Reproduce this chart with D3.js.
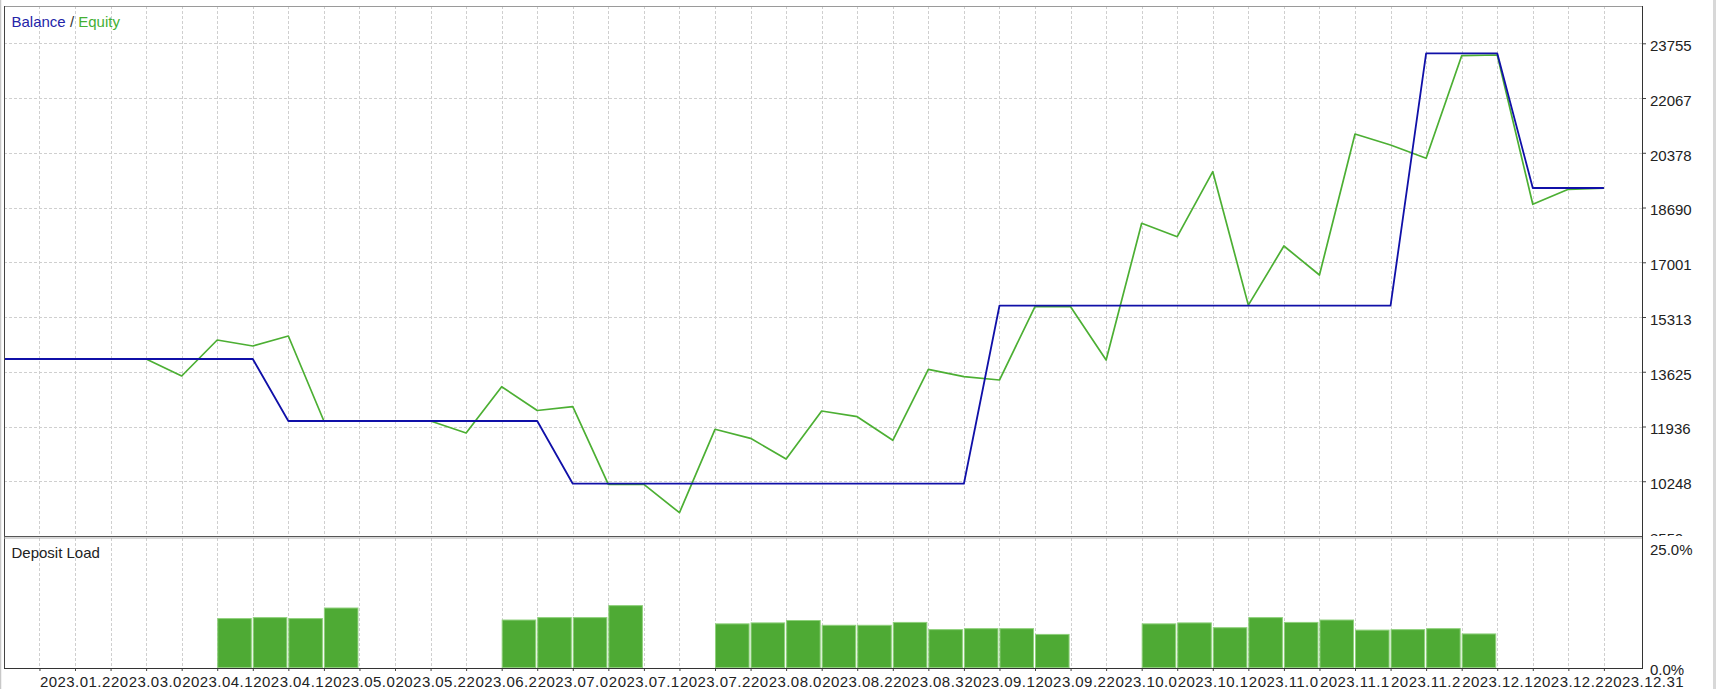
<!DOCTYPE html>
<html><head><meta charset="utf-8">
<script src="https://cdn.jsdelivr.net/npm/d3@7"></script>
<style>
body{margin:0;background:#fff}
svg{display:block}
text{font-family:"Liberation Sans",Arial,sans-serif;font-size:15px;fill:#222}
</style>
</head><body>
<svg id="chart" width="1716" height="700"></svg>
<script>
// ---- data ----
const balance = [14018,14018,14018,14018,14018,14018,14018,14018,
  12106,12106,12106,12106,12106,12106,12106,12106,
  10172,10172,10172,10172,10172,10172,10172,10172,10172,10172,10172,10172,
  15662,15662,15662,15662,15662,15662,15662,15662,15662,15662,15662,15662,
  23446,23446,23446,19292,19292,19292];
const equity = [14018,14018,14018,14018,14018,13494,14604,14419,14727,
  12106,12106,12106,12106,11736,13164,12430,12547,10150,10150,9278,
  11850,11572,10934,12414,12239,11511,13700,13472,13370,15631,15631,13987,
  18203,17790,19795,15680,17503,16609,20957,20618,20208,23372,23394,18789,19252,19285];
const depositLoad = [0,0,0,0,0,0,10.4,10.6,10.4,12.6,0,0,0,0,10.1,10.6,10.6,13.1,0,0,
  9.3,9.5,10.0,9.0,9.0,9.6,8.1,8.3,8.3,7.1,0,0,
  9.3,9.5,8.5,10.6,9.6,10.1,8.0,8.1,8.3,7.2,0,0,0];
const xLabels = ["2023.01.2","2023.03.0","2023.04.1","2023.04.1","2023.05.0","2023.05.2",
  "2023.06.2","2023.07.0","2023.07.1","2023.07.2","2023.08.0","2023.08.2","2023.08.3",
  "2023.09.1","2023.09.2","2023.10.0","2023.10.1","2023.11.0","2023.11.1","2023.11.2",
  "2023.12.1","2023.12.2","2023.12.31"];
const yTicks = [8559,10248,11936,13625,15313,17001,18690,20378,22067,23755];
const loadTicks = [0,25];

// ---- layout ----
const L = 4, R = 1642, TOP = 6, MAIN_B = 536, LOW_T = 538, LOW_B = 668;
const FONT = '"Liberation Sans",Arial,sans-serif';
const svg = d3.select("#chart");

const x = d3.scaleLinear().domain([0, 45]).range([3.9, 1603.9]);
const y = d3.scaleLinear().domain([8559, 23755]).range([MAIN_B, 43.3]);
const yL = d3.scaleLinear().domain([0, 25]).range([LOW_B, 548]);
const gridIdx = d3.range(1, 46);

// outer light frame
svg.append("line").attr("x1",0.5).attr("x2",0.5).attr("y1",0).attr("y2",689).attr("stroke","#c8c8c8").attr("stroke-width",1.5);
svg.append("line").attr("x1",1714.5).attr("x2",1714.5).attr("y1",0).attr("y2",689).attr("stroke","#d8d8d8").attr("stroke-width",3);

const defs = svg.append("defs");
defs.append("clipPath").attr("id","mainClip").append("rect").attr("x",L).attr("y",TOP).attr("width",R-L).attr("height",MAIN_B-TOP);
defs.append("clipPath").attr("id","axisClip").append("rect").attr("x",0).attr("y",0).attr("width",100).attr("height",MAIN_B);

// ---- grids ----
const dash = "3,2", gcol = "#cfcfcf";
const gMainGrid = svg.append("g");
gMainGrid.selectAll("line.v").data(gridIdx).join("line")
  .attr("x1", d => Math.round(x(d))+0.5).attr("x2", d => Math.round(x(d))+0.5)
  .attr("y1", TOP).attr("y2", MAIN_B)
  .attr("stroke", gcol).attr("stroke-dasharray", dash);
gMainGrid.selectAll("line.h").data(yTicks.slice(1)).join("line")
  .attr("x1", L).attr("x2", R)
  .attr("y1", d => Math.round(y(d))+0.5).attr("y2", d => Math.round(y(d))+0.5)
  .attr("stroke", gcol).attr("stroke-dasharray", dash);
const gLowGrid = svg.append("g");
gLowGrid.selectAll("line").data(gridIdx).join("line")
  .attr("x1", d => Math.round(x(d))+0.5).attr("x2", d => Math.round(x(d))+0.5)
  .attr("y1", LOW_T).attr("y2", LOW_B)
  .attr("stroke", gcol).attr("stroke-dasharray", dash);

// ---- lines ----
const line = d3.line().x((d,i) => x(i)).y(d => y(d));
const gLines = svg.append("g").attr("clip-path","url(#mainClip)");
gLines.append("path").datum(equity).attr("d", line)
  .attr("fill","none").attr("stroke","#4caf33").attr("stroke-width",1.7).attr("stroke-linejoin","round");
gLines.append("path").datum(balance).attr("d", line)
  .attr("fill","none").attr("stroke","#1010a8").attr("stroke-width",1.8).attr("stroke-linejoin","round");

// ---- bars ----
svg.append("g").selectAll("rect").data(depositLoad.map((v,i)=>({v,i})).filter(d=>d.v>0)).join("rect")
  .attr("x", d => x(d.i)+0.5).attr("width", d => x(d.i+1)-x(d.i)-2)
  .attr("y", d => yL(d.v)+0.5).attr("height", d => yL(0)-yL(d.v)-1)
  .attr("fill","#4eaa34").attr("stroke","#8fd07c").attr("stroke-width",1);

// ---- frames ----
svg.append("line").attr("x1",L).attr("x2",R).attr("y1",TOP+0.5).attr("y2",TOP+0.5).attr("stroke","#9a9a9a");
svg.append("line").attr("x1",L+0.5).attr("x2",L+0.5).attr("y1",TOP).attr("y2",LOW_B).attr("stroke","#444");
svg.append("line").attr("x1",L).attr("x2",R).attr("y1",MAIN_B+0.5).attr("y2",MAIN_B+0.5).attr("stroke","#555");
svg.append("line").attr("x1",L).attr("x2",R).attr("y1",MAIN_B+2).attr("y2",MAIN_B+2).attr("stroke","#b0b0b0");

// ---- right axis (main) ----
const yAxis = d3.axisRight(y).tickValues(yTicks).tickSize(4).tickPadding(4).tickFormat(d3.format("d"));
const gy = svg.append("g").attr("transform",`translate(${R},0)`).attr("clip-path","url(#axisClip)").call(yAxis);
gy.select(".domain").remove();
gy.selectAll(".tick line").attr("stroke","#444");
gy.selectAll(".tick text").attr("x",8).attr("dy",null).attr("y",7.4)
  .style("font-family",FONT).style("font-size","15px").attr("fill","#222");
svg.append("line").attr("x1",R+0.5).attr("x2",R+0.5).attr("y1",TOP).attr("y2",LOW_B).attr("stroke","#333");

// ---- right axis (deposit load) ----
const lAxis = d3.axisRight(yL).tickValues(loadTicks).tickSize(0).tickFormat(d => d3.format(".1f")(d)+"%");
const gl = svg.append("g").attr("transform",`translate(${R},0)`).call(lAxis);
gl.select(".domain").remove();
gl.selectAll(".tick text").attr("x",8).attr("dy",null).attr("y",6.3)
  .style("font-family",FONT).style("font-size","15px").attr("fill","#222");

// ---- bottom axis ----
const xAxis = d3.axisBottom(x).tickValues(gridIdx).tickSize(3).tickPadding(0)
  .tickFormat(d => (d % 2 === 1) ? xLabels[(d-1)/2] : "");
const gx = svg.append("g").attr("transform",`translate(0,${LOW_B})`).call(xAxis);
gx.select(".domain").remove();
gx.selectAll(".tick line").attr("stroke","#444");
gx.selectAll(".tick text").attr("text-anchor","start").attr("dy",null).attr("y",18.5).attr("x",0)
  .style("font-family",FONT).style("font-size","15px").style("letter-spacing","0.45px").attr("fill","#222");
svg.append("line").attr("x1",L).attr("x2",R+1).attr("y1",LOW_B+0.5).attr("y2",LOW_B+0.5).attr("stroke","#333");

// ---- titles ----
const leg = svg.append("text").attr("x",11.5).attr("y",26.7);
leg.append("tspan").text("Balance").attr("fill","#2424a8");
leg.append("tspan").text(" / ").attr("fill","#333");
leg.append("tspan").text("Equity").attr("fill","#44b033");
svg.append("text").attr("x",11.5).attr("y",557.7).attr("fill","#333").text("Deposit Load");
</script>
</body></html>
